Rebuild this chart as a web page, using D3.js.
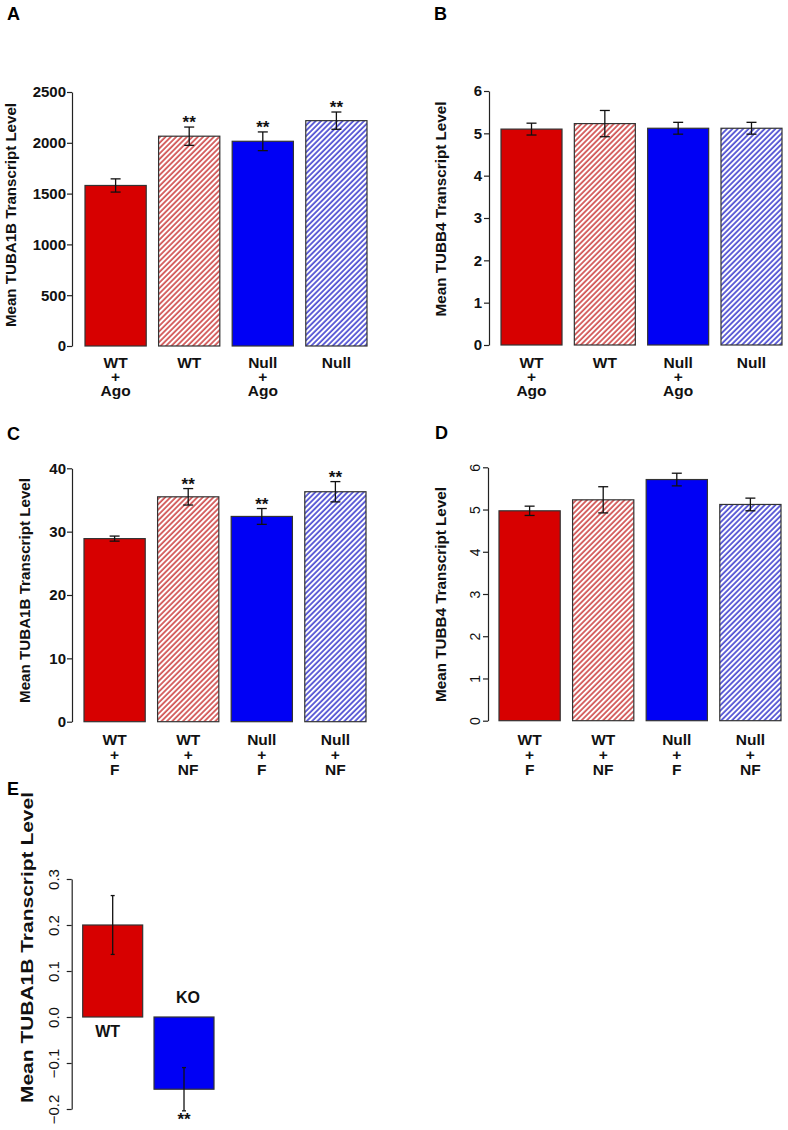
<!DOCTYPE html>
<html>
<head>
<meta charset="utf-8">
<script src="https://cdn.jsdelivr.net/npm/d3@7"></script>
<style>
  body { margin: 0; background: #fff; }
  text { font-family: "Liberation Sans", Arial, sans-serif; }
</style>
</head>
<body>
<div id="chart-area"></div>
<script>
// ---- data ----
var labelsAB = [["WT", "+", "Ago"], ["WT"], ["Null", "+", "Ago"], ["Null"]];
var labelsCD = [["WT", "+", "F"], ["WT", "+", "NF"], ["Null", "+", "F"], ["Null", "+", "NF"]];
var labelsE = ["WT", "KO"];

var meanA = [1580, 2065, 2015, 2218];
var errA = [65, 90, 92, 85];
var meanB = [5.10, 5.23, 5.12, 5.12];
var errB = [0.14, 0.31, 0.14, 0.14];
var meanC = [28.9, 35.5, 32.4, 36.3];
var errC = [0.4, 1.3, 1.25, 1.6];
var meanD = [4.97, 5.23, 5.71, 5.12];
var errD = [0.11, 0.31, 0.15, 0.15];
var meanE = [0.2, -0.157];
var errE = [0.064, 0.047];

var starsA = [false, true, true, true];
var starsB = [false, false, false, false];
var starsC = [false, true, true, true];
var starsD = [false, false, false, false];
var starsE = [false, true];

var ticksA = [0, 500, 1000, 1500, 2000, 2500];
var ticksB = [0, 1, 2, 3, 4, 5, 6];
var ticksC = [0, 10, 20, 30, 40];
var ticksE = [-0.2, -0.1, 0, 0.1, 0.2, 0.3];

var fills4 = ["solidRed", "hatchRed", "solidBlue", "hatchBlue"];
var fillsE = ["solidRed", "solidBlue"];

var red = "#d70000", blue = "#0000f5";

var svg = d3.select("#chart-area")
    .append("svg")
    .attr("width", 788)
    .attr("height", 1130);

svg.append("rect").attr("width", 788).attr("height", 1130).attr("fill", "#fff");

// hatch patterns
var defs = svg.append("defs");
function hatch(id, col) {
  var p = defs.append("pattern")
    .attr("id", id)
    .attr("patternUnits", "userSpaceOnUse")
    .attr("width", 3.8).attr("height", 10)
    .attr("patternTransform", "rotate(45)");
  p.append("rect").attr("width", 3.8).attr("height", 10).attr("fill", "#fff");
  p.append("line")
    .attr("x1", 1).attr("y1", 0).attr("x2", 1).attr("y2", 10)
    .attr("stroke", col).attr("stroke-width", 1.4);
}
hatch("hatchRed", "#c62a2a");
hatch("hatchBlue", "#2424c8");

function fillOf(k) {
  if (k == "solidRed") return red;
  if (k == "solidBlue") return blue;
  return "url(#" + k + ")";
}

function panel(o) {
  var g = svg.append("g");
  var cats = o.labels.map(function(d, i) { return i; });
  // one record per bar so indices survive filtering
  var rows = o.mean.map(function(m, i) {
    return {i: i, mean: m, err: o.err[i], star: o.stars[i], fill: o.fills[i]};
  });

  var x = d3.scaleBand()
      .domain(cats)
      .range([o.barL, o.barR])
      .paddingInner(o.pad)
      .paddingOuter(0);

  var y = d3.scaleLinear()
      .domain(o.domain)
      .range([o.y0, o.y1]);

  // y axis, R style: line from first to last tick
  var yAxis = d3.axisLeft(y)
      .tickValues(o.ticks)
      .tickSize(5)
      .tickSizeOuter(0)
      .tickFormat(o.fmt);

  var ax = g.append("g")
      .attr("transform", "translate(" + o.axisX + ",0)")
      .call(yAxis);
  ax.select(".domain").attr("stroke", "#222").attr("stroke-width", 1.2);
  ax.selectAll(".tick line").attr("stroke", "#222").attr("stroke-width", 1.2);
  ax.selectAll(".tick text")
    .attr("fill", "#111")
    .attr("font-size", o.tickSize + "px")
    .attr("font-weight", o.tickBold ? "bold" : "normal");
  if (o.rotTicks) {
    ax.selectAll(".tick text")
      .attr("transform", "rotate(-90)")
      .attr("x", 0)
      .attr("y", -(o.axisX - o.tickX))
      .attr("dy", "0.35em")
      .attr("text-anchor", "middle");
  } else {
    ax.selectAll(".tick text").attr("x", -(o.axisX - o.tickX));
  }

  // y label
  g.append("text")
    .attr("transform", "translate(" + o.labX + "," + o.labY + ") rotate(-90)")
    .attr("text-anchor", "middle")
    .attr("font-weight", "bold")
    .attr("font-size", o.labSize + "px")
    .attr("textLength", o.labLen)
    .attr("lengthAdjust", "spacingAndGlyphs")
    .attr("fill", "#111")
    .text(o.ylabel);

  // panel letter
  g.append("text")
    .attr("x", o.letterX).attr("y", o.letterY)
    .attr("font-size", "18px").attr("font-weight", "bold")
    .text(o.letter);

  // bars
  g.selectAll(".bar")
    .data(rows)
    .enter().append("rect")
    .attr("class", "bar")
    .attr("x", function(d) { return x(d.i); })
    .attr("width", x.bandwidth())
    .attr("y", function(d) { return Math.min(y(d.mean), y(0)); })
    .attr("height", function(d) { return Math.abs(y(d.mean) - y(0)); })
    .attr("fill", function(d) { return fillOf(d.fill); })
    .attr("stroke", "#333")
    .attr("stroke-width", 1.2);

  // error bars
  var eb = g.selectAll(".err")
    .data(rows)
    .enter().append("g")
    .attr("class", "err")
    .attr("transform", function(d) { return "translate(" + (x(d.i) + x.bandwidth() / 2) + ",0)"; });
  eb.append("line")
    .attr("y1", function(d) { return y(d.mean + d.err); })
    .attr("y2", function(d) { return y(d.mean - d.err); })
    .attr("stroke", "#111").attr("stroke-width", 1.3);
  [1, -1].forEach(function(s) {
    eb.append("line")
      .attr("x1", -o.cap).attr("x2", o.cap)
      .attr("y1", function(d) { return y(d.mean + s * d.err); })
      .attr("y2", function(d) { return y(d.mean + s * d.err); })
      .attr("stroke", "#111").attr("stroke-width", 1.3);
  });

  // significance stars
  g.selectAll(".star")
    .data(rows.filter(function(d) { return d.star; }))
    .enter().append("text")
    .attr("class", "star")
    .attr("x", function(d) { return x(d.i) + x.bandwidth() / 2; })
    .attr("y", function(d) {
      if (d.mean >= 0) return y(d.mean + d.err) + 1;
      return y(d.mean - d.err) + 14;
    })
    .attr("text-anchor", "middle")
    .attr("font-size", "17px").attr("font-weight", "bold")
    .attr("fill", "#111")
    .text("**");

  return {g: g, x: x, y: y};
}

// x labels stacked below axis
function xLabels(p, labels, baseY, step) {
  labels.forEach(function(lines, i) {
    var t = p.g.append("text")
      .attr("text-anchor", "middle")
      .attr("font-size", "15.5px").attr("font-weight", "bold")
      .attr("fill", "#111");
    lines.forEach(function(s, j) {
      t.append("tspan")
        .attr("x", p.x(i) + p.x.bandwidth() / 2)
        .attr("y", baseY + j * step)
        .text(s);
    });
  });
}

var pA = panel({
  letter: "A", letterX: 7, letterY: 20,
  labels: labelsAB, mean: meanA, err: errA, stars: starsA, fills: fills4,
  barL: 85, barR: 367, pad: 0.168,
  domain: [0, 2500], y0: 346, y1: 92, ticks: ticksA, fmt: d3.format("d"),
  axisX: 72, tickX: 66, tickSize: 15, tickBold: true, rotTicks: false,
  ylabel: "Mean TUBA1B Transcript Level", labX: 15.5, labY: 215, labSize: 15, labLen: 224,
  cap: 5
});
xLabels(pA, labelsAB, 368, 14);

var pB = panel({
  letter: "B", letterX: 434, letterY: 20,
  labels: labelsAB, mean: meanB, err: errB, stars: starsB, fills: fills4,
  barL: 501, barR: 782, pad: 0.168,
  domain: [0, 6], y0: 345, y1: 91, ticks: ticksB, fmt: d3.format("d"),
  axisX: 489, tickX: 482, tickSize: 15, tickBold: true, rotTicks: false,
  ylabel: "Mean TUBB4 Transcript Level", labX: 446, labY: 209, labSize: 15, labLen: 215,
  cap: 5
});
xLabels(pB, labelsAB, 368, 14);

var pC = panel({
  letter: "C", letterX: 7, letterY: 440,
  labels: labelsCD, mean: meanC, err: errC, stars: starsC, fills: fills4,
  barL: 84, barR: 366, pad: 0.168,
  domain: [0, 40], y0: 721.7, y1: 468.3, ticks: ticksC, fmt: d3.format("d"),
  axisX: 72, tickX: 66, tickSize: 15, tickBold: true, rotTicks: false,
  ylabel: "Mean TUBA1B Transcript Level", labX: 30, labY: 590.5, labSize: 15, labLen: 225,
  cap: 5
});
xLabels(pC, labelsCD, 745, 15);

var pD = panel({
  letter: "D", letterX: 435, letterY: 439,
  labels: labelsCD, mean: meanD, err: errD, stars: starsD, fills: fills4,
  barL: 499, barR: 781, pad: 0.168,
  domain: [0, 6], y0: 720.7, y1: 467.3, ticks: ticksB, fmt: d3.format("d"),
  axisX: 488, tickX: 475, tickSize: 14, tickBold: false, rotTicks: true,
  ylabel: "Mean TUBB4 Transcript Level", labX: 446, labY: 594.5, labSize: 15, labLen: 215,
  cap: 5
});
xLabels(pD, labelsCD, 745, 15);

var pE = panel({
  letter: "E", letterX: 7, letterY: 795,
  labels: labelsE, mean: meanE, err: errE, stars: starsE, fills: fillsE,
  barL: 82.7, barR: 214, pad: 0.159,
  domain: [-0.2, 0.3], y0: 1109, y1: 879, ticks: ticksE, fmt: d3.format(".1f"),
  axisX: 71.7, tickX: 54, tickSize: 15, tickBold: false, rotTicks: true,
  ylabel: "Mean TUBA1B Transcript Level", labX: 33, labY: 947.5, labSize: 17, labLen: 311,
  cap: 2
});
// E category labels sit next to the zero line
meanE.forEach(function(d, i) {
  pE.g.append("text")
    .attr("x", pE.x(i) + pE.x.bandwidth() / 2 + (d >= 0 ? -5 : 4))
    .attr("y", d >= 0 ? pE.y(0) + 20 : pE.y(0) - 14)
    .attr("text-anchor", "middle")
    .attr("font-size", "16px").attr("font-weight", "bold")
    .attr("fill", "#111")
    .text(labelsE[i]);
});
</script>
</body>
</html>
